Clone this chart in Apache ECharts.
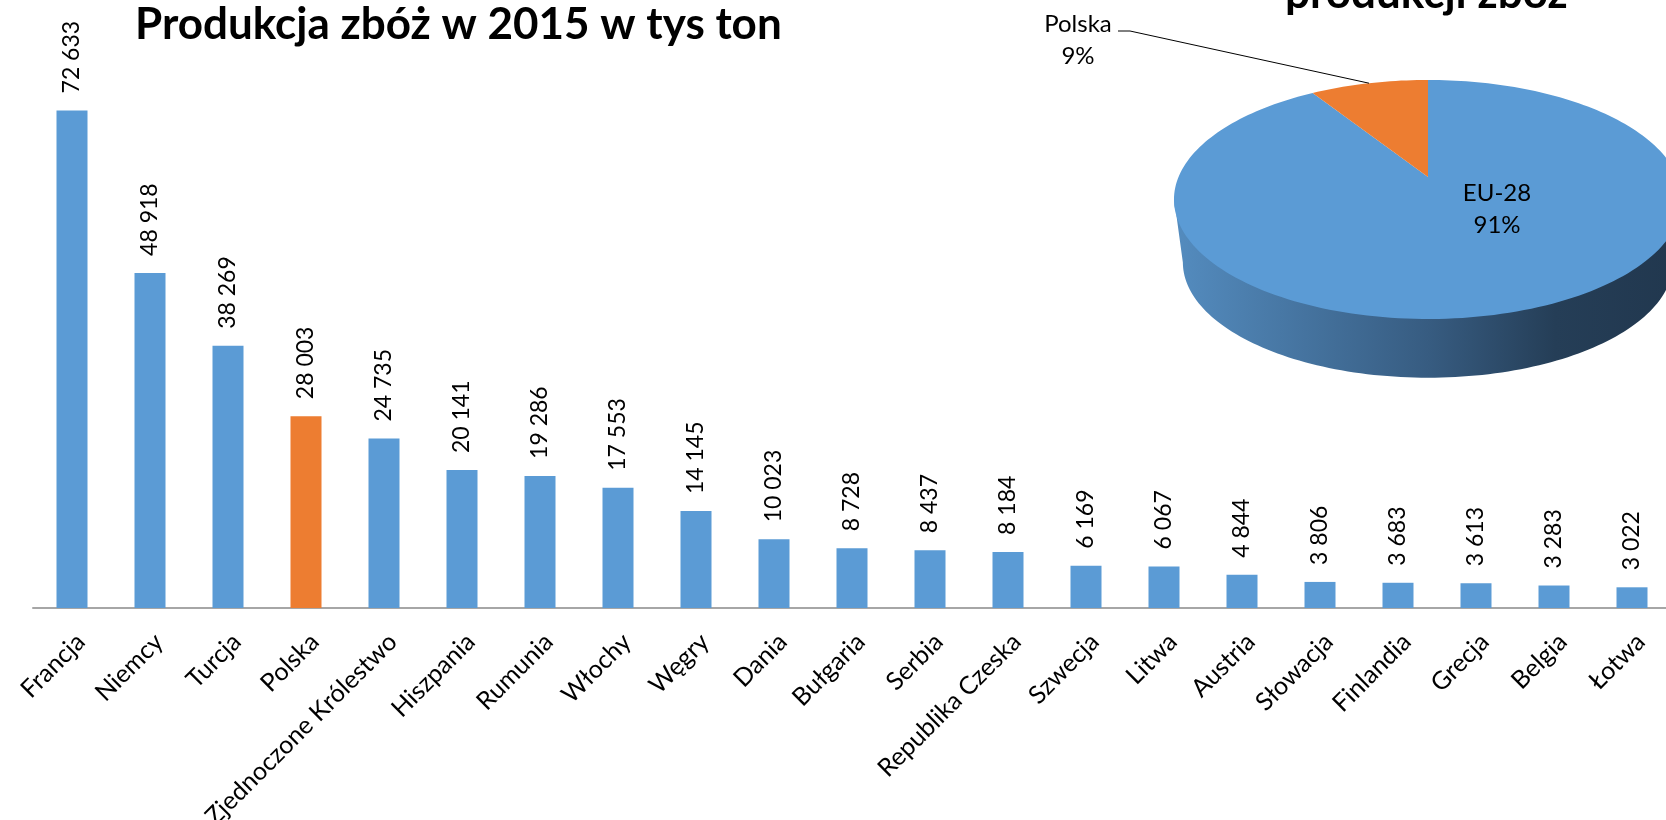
<!DOCTYPE html>
<html><head><meta charset="utf-8">
<script src="https://cdn.jsdelivr.net/npm/echarts@6/dist/echarts.min.js"></script>
<style>html,body{margin:0;padding:0;background:#fff}#chart{width:1666px;height:820px}</style>
</head><body><div id="chart"></div>
<script>
// ---- data ----
const categories = ['Francja','Niemcy','Turcja','Polska','Zjednoczone Królestwo','Hiszpania','Rumunia','Włochy','Węgry','Dania','Bułgaria','Serbia','Republika Czeska','Szwecja','Litwa','Austria','Słowacja','Finlandia','Grecja','Belgia','Łotwa'];
const values = [72633,48918,38269,28003,24735,20141,19286,17553,14145,10023,8728,8437,8184,6169,6067,4844,3806,3683,3613,3283,3022];
const highlightCategory = 'Polska';
const pieNames = ['EU-28','Polska'];
const pieValues = [91, 9];
const titleText = 'Produkcja zbóż w 2015 w tys ton';
const pieTitleText = 'produkcji zbóż';

// ---- styles / layout ----
const BLUE = '#5B9BD5', ORANGE = '#ED7D31';
const FONT = 'Lato';
const pieColors = [BLUE, ORANGE];
const PIE = {cx:1428, cy:177, sx:249.5, sy:115.3, p:0.188, depth:63.7, bottomScale:0.965};
const pieLabelLayout = [
  {x:1497, y:209},
  {x:1078, y:40, leader:[[1118,31],[1130,31]]}
];

function fmt(v){ return String(v).replace(/\B(?=(\d{3})+(?!\d))/g, ' '); }

function proj(theta, bottom){
  const X = Math.sin(theta), Y = -Math.cos(theta);
  const w = 1 - PIE.p * Y;
  const s = bottom ? PIE.bottomScale : 1;
  return [PIE.cx + s * PIE.sx * X / w, PIE.cy + (bottom ? PIE.depth : 0) + s * PIE.sy * Y / w];
}

const chart = echarts.init(document.getElementById('chart'), null, {renderer:'canvas'});

const barData = values.map((v, i) => categories[i] === highlightCategory ? {value:v, itemStyle:{color:ORANGE}} : v);

const option = {
  animation: false,
  backgroundColor: '#fff',
  title: [
    {text: titleText, left: 135, top: 3, padding: 0,
     textStyle: {fontFamily: FONT, fontWeight: 'bold', fontSize: 44, color: '#000'}},
    {text: pieTitleText, left: 1285, top: -28, padding: 0,
     textStyle: {fontFamily: FONT, fontWeight: 'bold', fontSize: 44, color: '#000'}}
  ],
  grid: {left: 33, top: 60, width: 1638, bottom: 212, containLabel: false, outerBoundsMode: 'none'},
  xAxis: {
    type: 'category', data: categories,
    axisLine: {lineStyle: {color: '#A6A6A6', width: 2}},
    axisTick: {show: false},
    axisLabel: {interval: 0, rotate: 45, align: 'right', verticalAlign: 'top', margin: 21,
      fontFamily: FONT, fontSize: 25, color: '#000', hideOverlap: false}
  },
  yAxis: {type: 'value', min: 0, max: 80000, show: false, splitLine: {show: false}},
  series: [
    {
      type: 'bar', data: barData, barWidth: 31,
      itemStyle: {color: BLUE},
      label: {show: true, position: 'top', rotate: 90, align: 'left', verticalAlign: 'middle', distance: 17,
        fontFamily: FONT, fontSize: 23, color: '#000', formatter: p => fmt(p.value)}
    },
    {
      type: 'custom', coordinateSystem: 'none', silent: true,
      data: pieValues.map((v, i) => ({name: pieNames[i], value: v})),
      renderItem: function(params, api){
        const i = params.dataIndex;
        const sum = pieValues.reduce((a, b) => a + b, 0);
        let cum = 0; for (let k = 0; k < i; k++) cum += pieValues[k];
        const v = api.value(0);
        const a0 = cum / sum * 2 * Math.PI, a1 = (cum + v) / sum * 2 * Math.PI;
        const children = [];
        const vis0 = Math.acos(-PIE.p), vis1 = 2 * Math.PI - vis0;
        const lo = Math.max(a0, vis0), hi = Math.min(a1, vis1);
        if (hi > lo) {
          const pts = [];
          const n = 120;
          for (let k = 0; k <= n; k++) { const q = proj(lo + (hi - lo) * k / n, false); pts.push([q[0], q[1] - 2]); }
          for (let k = n; k >= 0; k--) { pts.push(proj(lo + (hi - lo) * k / n, true)); }
          children.push({type: 'polygon', z2: 0, shape: {points: pts},
            style: {fill: new echarts.graphic.LinearGradient(PIE.cx - PIE.sx * 1.02, 0, PIE.cx + PIE.sx * 1.02, 0, [
              {offset: 0, color: '#548cbf'}, {offset: 0.5, color: '#375c81'},
              {offset: 0.75, color: '#253e57'}, {offset: 1, color: '#21374e'}], true)}});
        }
        const top = [[PIE.cx, PIE.cy]];
        const m = Math.max(4, Math.ceil((a1 - a0) / (2 * Math.PI) * 240));
        for (let k = 0; k <= m; k++) top.push(proj(a0 + (a1 - a0) * k / m, false));
        children.push({type: 'polygon', z2: 1, shape: {points: top}, style: {fill: pieColors[i % pieColors.length]}});
        const lay = pieLabelLayout[i];
        const pct = Math.round(v / sum * 100) + '%';
        children.push({type: 'text', z2: 3, style: {text: pieNames[i] + '\n' + pct, x: lay.x, y: lay.y,
          fill: '#000', fontFamily: FONT, fontSize: 24, lineHeight: 32, align: 'center', verticalAlign: 'middle'}});
        if (lay.leader) {
          const end = proj((a0 + a1) / 2, false);
          children.push({type: 'polyline', z2: 2, shape: {points: lay.leader.concat([end])},
            style: {stroke: '#000', lineWidth: 1, fill: null}});
        }
        return {type: 'group', children: children};
      }
    }
  ]
};
chart.setOption(option);
</script>
</body></html>
